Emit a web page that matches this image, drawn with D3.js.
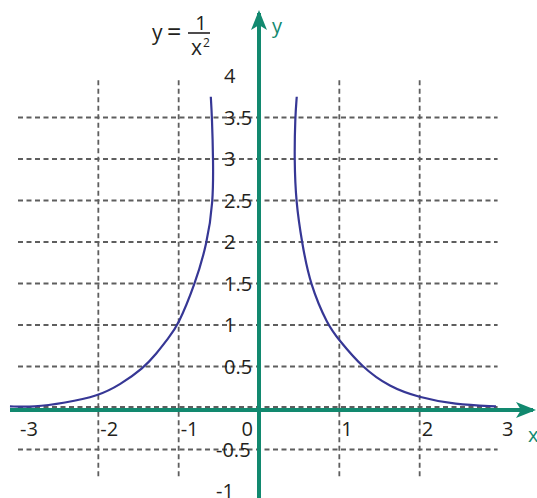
<!DOCTYPE html>
<style>
body { margin: 0; background: #fff; }
text { font-family: "Open Sans", sans-serif; fill: #231f20; }
</style>
<svg width="537" height="498"></svg>
<script src="https://d3js.org/d3.v7.min.js"></script>
<script>

var xTicks = [-3, -2, -1, 0, 1, 2, 3];
var yTicks = [4, 3.5, 3, 2.5, 2, 1.5, 1, 0.5, -0.5, -1];
var xGrid = [-2, -1, 1, 2];
var yGrid = [3.5, 3, 2.5, 2, 1.5, 1, 0.5, 0, -0.5];

var leftX  = [-3.10, -2.81, -2.42, -2.00, -1.73, -1.44, -1.28, -1.13, -1.01, -0.797, -0.647, -0.57, -0.57, -0.585, -0.60];
var leftY  = [ 0.02,  0.01,  0.06,  0.145, 0.28,  0.48,  0.65,  0.84,  0.99,  1.49,   1.98,   2.48,  2.99,  3.50,   3.75];
var rightX = [0.47, 0.45, 0.44, 0.46, 0.535, 0.635, 0.86, 0.98, 1.28, 1.63, 1.98, 2.44, 2.95];
var rightY = [3.75, 3.50, 2.99, 2.48, 1.99,  1.49,  0.99, 0.84, 0.49, 0.25, 0.13, 0.04, 0.02];

var svg = d3.select("svg");

var x = d3.scaleLinear().domain([-3, 3]).range([18, 500]);
var y = d3.scaleLinear().domain([-1, 4]).range([491, 76]);

var axisColor = "#12896f",
    curveColor = "#363795",
    gridColor = "#5e5e5e";

// dashed grid
svg.append("g")
  .selectAll("line")
  .data(yGrid)
  .enter().append("line")
    .attr("x1", x(-3)).attr("x2", x(2.97))
    .attr("y1", function(d) { return y(d) - (d === 0 ? 1 : 0); })
    .attr("y2", function(d) { return y(d) - (d === 0 ? 1 : 0); })
    .attr("stroke", gridColor)
    .attr("stroke-width", 1.8)
    .attr("stroke-dasharray", "5,3.5");

svg.append("g")
  .selectAll("line")
  .data(xGrid)
  .enter().append("line")
    .attr("x1", function(d) { return x(d); })
    .attr("x2", function(d) { return x(d); })
    .attr("y1", y(3.95)).attr("y2", y(-0.84))
    .attr("stroke", gridColor)
    .attr("stroke-width", 1.8)
    .attr("stroke-dasharray", "5,3.5");

// the two branches
var line = d3.line()
    .x(function(d) { return x(d[0]); })
    .y(function(d) { return y(d[1]); })
    .curve(d3.curveBasis);

[d3.zip(leftX, leftY), d3.zip(rightX, rightY)].forEach(function(br) {
  svg.append("path")
    .datum(br)
    .attr("d", line)
    .attr("fill", "none")
    .attr("stroke", curveColor)
    .attr("stroke-width", 2.2);
});

// axes with arrows
var defs = svg.append("defs");
defs.append("marker")
    .attr("id", "arrow")
    .attr("viewBox", "0 0 20 16")
    .attr("refX", 17).attr("refY", 8)
    .attr("markerUnits", "userSpaceOnUse")
    .attr("markerWidth", 20).attr("markerHeight", 16)
    .attr("orient", "auto")
  .append("path")
    .attr("d", "M0,0 L20,8 L0,16 L5,8 Z")
    .attr("fill", axisColor);

svg.append("line")
    .attr("x1", 10).attr("x2", 533)
    .attr("y1", y(0) + 2).attr("y2", y(0) + 2)
    .attr("stroke", axisColor)
    .attr("stroke-width", 4)
    .attr("marker-end", "url(#arrow)");

svg.append("line")
    .attr("x1", x(0)).attr("x2", x(0))
    .attr("y1", 498).attr("y2", 13)
    .attr("stroke", axisColor)
    .attr("stroke-width", 4)
    .attr("marker-end", "url(#arrow)");

// tick labels
svg.append("g")
  .selectAll("text")
  .data(xTicks)
  .enter().append("text")
    .attr("font-size", 20)
    .attr("text-anchor", function(d) { return d === 0 ? "end" : "start"; })
    .attr("x", function(d) { return d === 0 ? x(d) - 6 : x(d) + 2; })
    .attr("y", y(0) + 28)
    .text(function(d) { return d; });

svg.append("g")
  .selectAll("text")
  .data(yTicks)
  .enter().append("text")
    .attr("font-size", 20)
    .attr("x", function(d) { return d < 0 ? 216 : 224; })
    .attr("y", function(d) { return y(d) + 7; })
    .text(function(d) { return d; });

// axis names
svg.append("text")
    .attr("x", 272).attr("y", 33)
    .attr("font-family", "DejaVu Serif, serif")
    .attr("font-size", 20)
    .style("fill", axisColor)
    .text("y");

svg.append("text")
    .attr("x", 528).attr("y", 442)
    .attr("font-family", "DejaVu Serif, serif")
    .attr("font-size", 20)
    .style("fill", axisColor)
    .text("x");

// formula label
var f = svg.append("g");
f.append("text").attr("x", 152).attr("y", 40).attr("font-size", 21).text("y");
f.append("text").attr("x", 167).attr("y", 41).attr("font-size", 25).text("=");
f.append("line")
    .attr("x1", 188).attr("x2", 210)
    .attr("y1", 33).attr("y2", 33)
    .attr("stroke", "#231f20").attr("stroke-width", 1.6);
f.append("text").attr("x", 201).attr("y", 30).attr("font-size", 20)
    .attr("text-anchor", "middle").text("1");
f.append("text").attr("x", 191).attr("y", 55).attr("font-size", 21).text("x");
f.append("text").attr("x", 203).attr("y", 47).attr("font-size", 12).text("2");

</script>
